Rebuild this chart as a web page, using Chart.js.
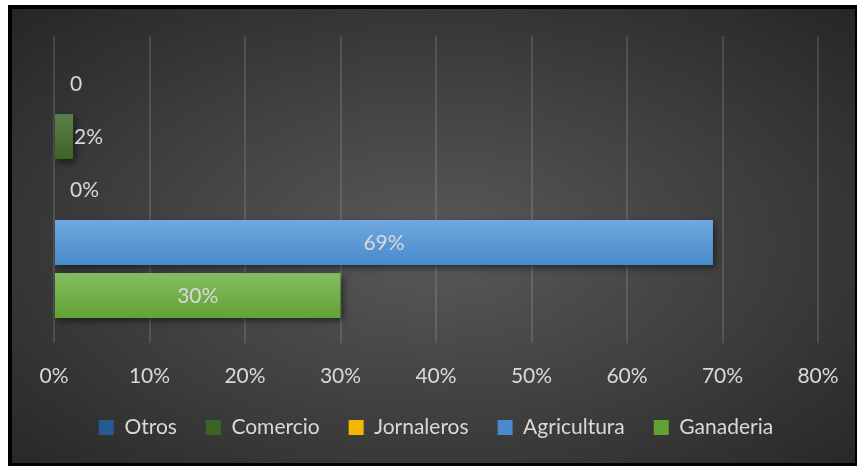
<!DOCTYPE html>
<html>
<head>
<meta charset="utf-8">
<script src="https://cdn.jsdelivr.net/npm/chart.js@4.4.1/dist/chart.umd.min.js"></script>
<style>
  html, body { margin: 0; padding: 0; background: #ffffff; }
  #frame {
    position: absolute;
    left: 8px; top: 5px;
    width: 843px; height: 454px;
    border-left: 4px solid #000; border-top: 4px solid #000;
    border-right: 2px solid #000; border-bottom: 3px solid #000;
    background: radial-gradient(ellipse at 50% 52%, #595959 0%, #404040 50%, #262626 100%);
  }
  canvas { display: block; }
</style>
</head>
<body>
<div id="frame"><canvas id="chart" width="843" height="454"></canvas></div>
<script>
// Occupation shares, one bar per group
const categories = [''];
const seriesNames = ['Otros', 'Comercio', 'Jornaleros', 'Agricultura', 'Ganaderia'];
const seriesValues = [0, 2, 0, 69, 30];
const valueLabels = ['0', '2%', '0%', '69%', '30%'];
const tickValues = [0, 10, 20, 30, 40, 50, 60, 70, 80];

// top / bottom shade of each bar
const shades = [
  ['#3476b8', '#245b8e'],
  ['#5d7f48', '#3c6524'],
  ['#ffcd38', '#f4b700'],
  ['#70a9df', '#488acb'],
  ['#83bd62', '#61a333']
];

const TEXT = '#d9d9d9';
const FONT_SIZE = 21;
Chart.defaults.font.family = 'Lato, "Noto Sans", sans-serif';
Chart.defaults.font.size = FONT_SIZE;
Chart.defaults.color = TEXT;

// vertical gradient per bar plus a soft drop shadow
const barStyle = {
  id: 'barStyle',
  beforeDatasetsDraw(chart) {
    const ctx = chart.ctx;
    chart.data.datasets.forEach((ds, i) => {
      chart.getDatasetMeta(i).data.forEach(el => {
        const { y, height } = el.getProps(['y', 'height'], true);
        const g = ctx.createLinearGradient(0, y - height / 2, 0, y + height / 2);
        g.addColorStop(0, shades[i][0]);
        g.addColorStop(1, shades[i][1]);
        el.options = Object.assign({}, el.options, { backgroundColor: g });
      });
    });
    ctx.save();
    ctx.shadowColor = 'rgba(0,0,0,0.55)';
    ctx.shadowBlur = 7;
    ctx.shadowOffsetX = 2;
    ctx.shadowOffsetY = 3;
  },
  afterDatasetsDraw(chart) {
    chart.ctx.restore();
  }
};

// value text on or beside each bar
const barValues = {
  id: 'barValues',
  afterDatasetsDraw(chart) {
    const ctx = chart.ctx;
    ctx.save();
    ctx.font = FONT_SIZE + 'px ' + Chart.defaults.font.family;
    ctx.fillStyle = TEXT;
    ctx.textBaseline = 'middle';
    chart.data.datasets.forEach((ds, i) => {
      const el = chart.getDatasetMeta(i).data[0];
      const { x, y, base } = el.getProps(['x', 'y', 'base'], true);
      const text = valueLabels[i];
      const w = ctx.measureText(text).width;
      if (x - base > w + 10) {
        ctx.textAlign = 'center';
        ctx.fillText(text, (x + base) / 2, y + 1);
      } else {
        ctx.textAlign = 'left';
        ctx.fillText(text, Math.max(x + 1, base + 16), y + 1);
      }
    });
    ctx.restore();
  }
};

new Chart(document.getElementById('chart'), {
  type: 'bar',
  data: {
    labels: categories,
    datasets: seriesNames.map((name, i) => ({
      label: name,
      data: [seriesValues[i]],
      backgroundColor: shades[i][1],
      borderWidth: 0,
      categoryPercentage: 0.863,
      barPercentage: 0.85
    }))
  },
  options: {
    indexAxis: 'y',
    responsive: false,
    animation: false,
    layout: { padding: { left: 42, right: 37, top: 27, bottom: 15 } },
    scales: {
      x: {
        min: 0,
        max: 80,
        afterBuildTicks: s => { s.ticks = tickValues.map(v => ({ value: v })); },
        afterFit: s => { s.height = 45; s.paddingLeft = 0; s.paddingRight = 0; },
        ticks: { padding: 21, color: TEXT, callback: v => v + '%' },
        grid: { color: 'rgba(255,255,255,0.12)', lineWidth: 2, drawTicks: false },
        border: { display: false }
      },
      y: { display: false }
    },
    plugins: {
      legend: {
        position: 'bottom',
        labels: { boxWidth: 15, boxHeight: 15, padding: 29, color: TEXT }
      },
      tooltip: { enabled: false }
    }
  },
  plugins: [barStyle, barValues]
});
</script>
</body>
</html>
